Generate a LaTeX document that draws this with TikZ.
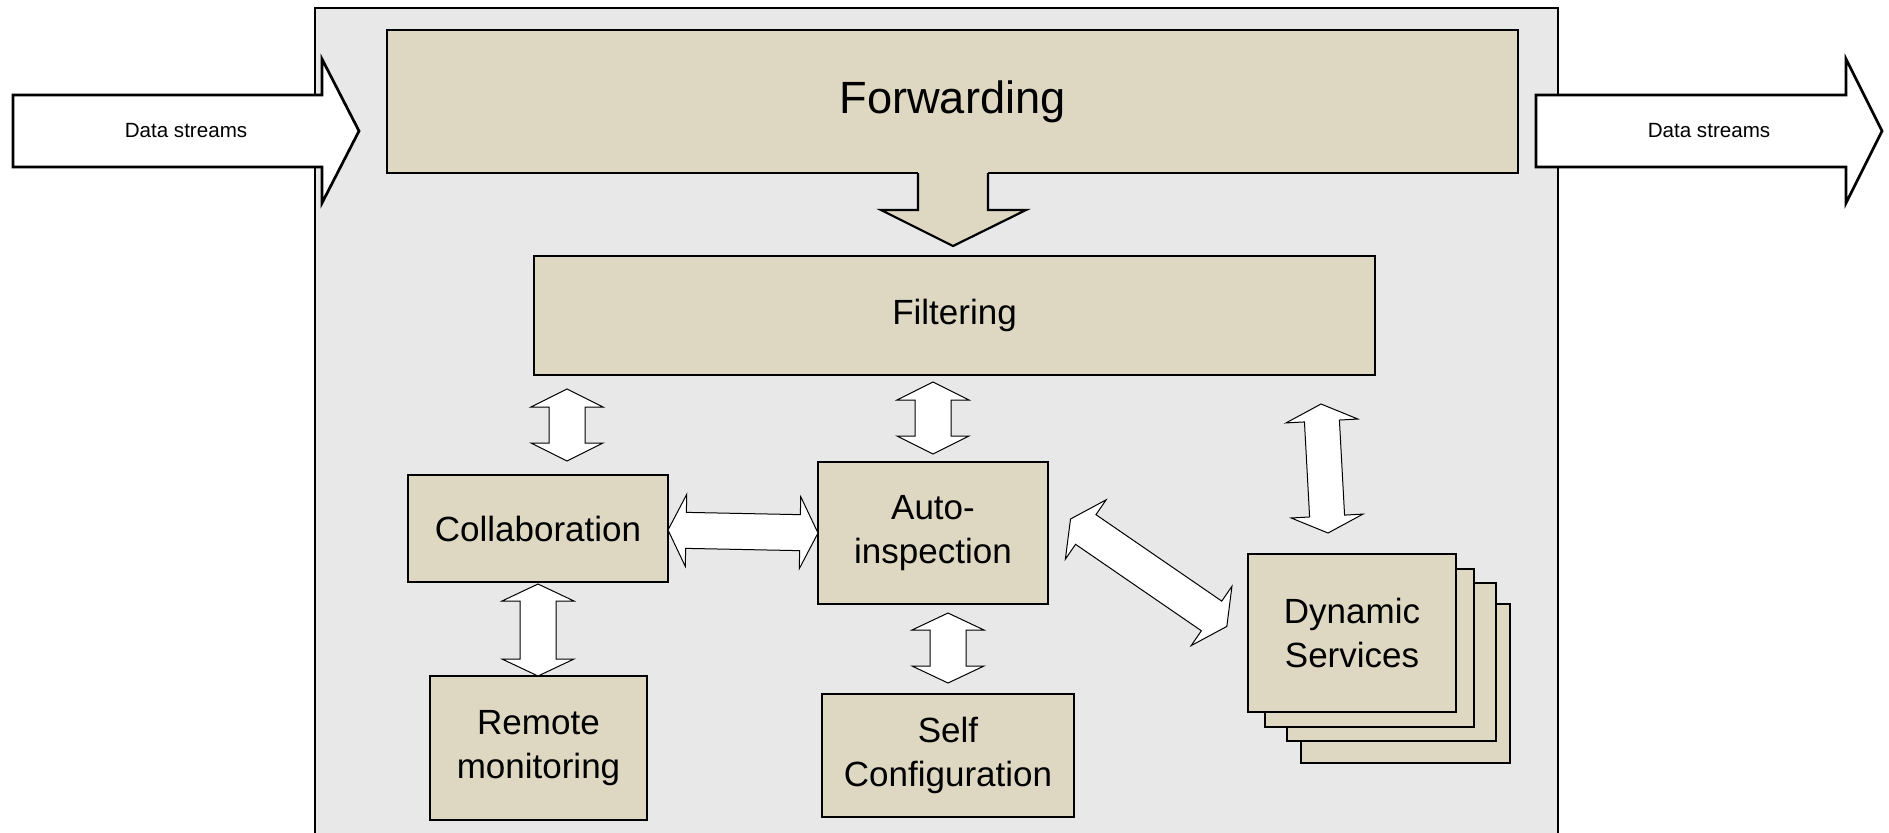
\documentclass[tikz,border=0pt]{standalone}
\usepackage{fontspec}
\setmainfont{Liberation Sans}
\usetikzlibrary{calc}

\definecolor{panelgray}{RGB}{232,232,232}
\definecolor{boxtan}{RGB}{222,216,194}

% Fat two-headed arrow between two named coordinates:
% #1 start, #2 end, #3 half shaft width, #4 half head width, #5 head length
\newcommand\twoway[5]{%
  \path ($(#1)!#5!(#2)$) coordinate (tw-a) ($(#2)!#5!(#1)$) coordinate (tw-b);
  \draw[link] (#1) -- ($(tw-a)!#4!90:(#2)$) -- ($(tw-a)!#3!90:(#2)$)
    -- ($(tw-b)!#3!-90:(#1)$) -- ($(tw-b)!#4!-90:(#1)$) -- (#2)
    -- ($(tw-b)!#4!90:(#1)$) -- ($(tw-b)!#3!90:(#1)$)
    -- ($(tw-a)!#3!-90:(#2)$) -- ($(tw-a)!#4!-90:(#2)$) -- cycle;}

\tikzset{
  panel/.style={fill=panelgray, draw=black, line width=1.35pt},
  box/.style={rectangle, fill=boxtan, draw=black, line width=1.35pt,
    align=center, inner sep=0pt, font=\fontsize{17.5}{21.8}\selectfont},
  stream/.style={fill=white, draw=black, line width=1.35pt, line join=miter},
  streamtext/.style={font=\fontsize{10.3}{12}\selectfont},
  link/.style={fill=white, draw=black, line width=0.5pt, line join=miter},
  downarrow/.style={draw=black, line width=1.1pt, line join=miter},
}

\begin{document}
\begin{tikzpicture}[x=0.5pt, y=-0.5pt]
  \useasboundingbox (0,0) rectangle (1889,832);

  % enclosing panel
  \draw[panel] (315,8) rectangle (1558,845);

  % incoming and outgoing data streams
  \draw[stream] (13,95) -- (322,95) -- (322,59) -- (359,131) -- (322,203)
    -- (322,167) -- (13,167) -- cycle;
  \node[streamtext] (in) at (186,131) {Data streams};
  \draw[stream] (1536,95) -- (1846,95) -- (1846,59) -- (1882,131) -- (1846,203)
    -- (1846,167) -- (1536,167) -- cycle;
  \node[streamtext] (out) at (1709,131) {Data streams};

  % forwarding block with its downward arrow
  \node[box, minimum width=565.5pt, minimum height=71.5pt,
        font=\fontsize{22.6}{27}\selectfont] (forward) at (952.5,101.5) {Forwarding};
  \fill[boxtan] (918,169) -- (918,210) -- (881,210) -- (953,246) -- (1026,210)
    -- (988,210) -- (988,169) -- cycle;
  \draw[downarrow] (918,173) -- (918,210) -- (881,210) -- (953,246)
    -- (1026,210) -- (988,210) -- (988,173);

  % functional blocks
  \node[box, minimum width=420.5pt, minimum height=59.5pt] (filter) at (954.5,315.5) {Filtering};
  \node[box, minimum width=130pt, minimum height=53.5pt] (collab) at (538,528.5) {Collaboration};
  \node[box, minimum width=108.5pt, minimum height=72pt] (remote) at (538.5,748) {Remote\\monitoring};
  \node[box, minimum width=115pt, minimum height=71pt] (auto) at (933,533) {Auto-\\inspection};
  \node[box, minimum width=126pt, minimum height=61.5pt] (self) at (948,755.5) {Self\\Configuration};

  % stacked dynamic services
  \node[box, minimum width=104.5pt, minimum height=79.5pt] (dyn4) at (1405.5,683.5) {};
  \node[box, minimum width=104.5pt, minimum height=79pt] (dyn3) at (1391.5,662) {};
  \node[box, minimum width=104.5pt, minimum height=79pt] (dyn2) at (1369.5,648) {};
  \node[box, minimum width=104pt, minimum height=79pt] (dyn) at (1352,633) {Dynamic\\Services};

  % end points of the exchange arrows
  \coordinate (fc-a) at (567,389);    \coordinate (fc-b) at (567,461);
  \coordinate (cr-a) at (538,584);    \coordinate (cr-b) at (538,676);
  \coordinate (ca-a) at (668,530);    \coordinate (ca-b) at (818,533);
  \coordinate (fa-a) at (933,382);    \coordinate (fa-b) at (933,454);
  \coordinate (as-a) at (948,613);    \coordinate (as-b) at (948,683);
  \coordinate (fd-a) at (1321,404);   \coordinate (fd-b) at (1328,533);
  \coordinate (ad-a) at (1070.5,519); \coordinate (ad-b) at (1226.8,626.4);

  % exchange arrows
  \twoway{fc-a}{fc-b}{9pt}{18pt}{9pt}
  \twoway{cr-a}{cr-b}{9pt}{18pt}{8.5pt}
  \twoway{ca-a}{ca-b}{9pt}{18pt}{9pt}
  \twoway{fa-a}{fa-b}{9pt}{18pt}{9pt}
  \twoway{as-a}{as-b}{9pt}{18pt}{8.5pt}
  \twoway{fd-a}{fd-b}{8.75pt}{18pt}{8.5pt}
  \twoway{ad-a}{ad-b}{9pt}{18pt}{9.25pt}
\end{tikzpicture}
\end{document}
